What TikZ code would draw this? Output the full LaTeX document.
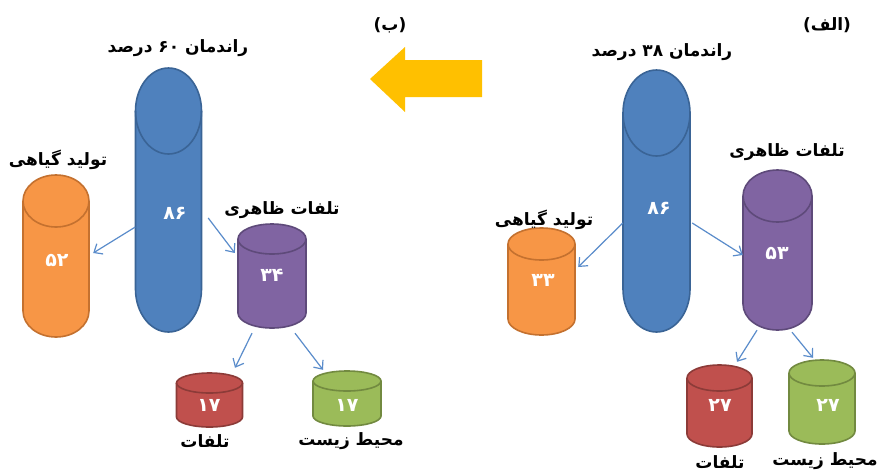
\documentclass[tikz,border=0pt]{standalone}
\usepackage{fontspec}
\usetikzlibrary{arrows.meta,calc}
\newfontfamily\fa[Script=Arabic]{DejaVu Sans}
\newfontfamily\dv{DejaVu Sans}
\TeXXeTstate=1

\definecolor{canBlueF}{HTML}{4F81BD}   \definecolor{canBlueD}{HTML}{3A6496}
\definecolor{canOrangeF}{HTML}{F79646} \definecolor{canOrangeD}{HTML}{C4712F}
\definecolor{canPurpleF}{HTML}{8064A2} \definecolor{canPurpleD}{HTML}{5E4A7A}
\definecolor{canRedF}{HTML}{C0504D}    \definecolor{canRedD}{HTML}{8C3B38}
\definecolor{canGreenF}{HTML}{9BBB59}  \definecolor{canGreenD}{HTML}{728A40}
\definecolor{flowblue}{HTML}{5A8CCB}
\definecolor{bigarrow}{HTML}{FFC000}

\tikzset{
  lbl/.style={font=\fa\bfseries\fontsize{17}{19}\selectfont, inner sep=0pt},
  num/.style={font=\fa\bfseries\fontsize{19}{21}\selectfont, text=white, inner sep=0pt},
  flow/.style={draw=flowblue, line width=1.2pt, -{Straight Barb[length=7pt,width=12pt,line width=1.2pt]}},
  canline/.style={line width=1.6pt},
}

% \can{name}{centre x}{top y}{bottom y}{x radius}{y radius}{colour prefix}
\newcommand{\can}[7]{%
  \fill[#7F] (#2-#5,#3+#6) -- (#2-#5,#4-#6)
      arc[start angle=180,end angle=0,x radius=#5,y radius=#6]
      -- (#2+#5,#3+#6)
      arc[start angle=0,end angle=-180,x radius=#5,y radius=#6] -- cycle;
  \draw[#7D,canline] (#2-#5,#3+#6) -- (#2-#5,#4-#6)
      arc[start angle=180,end angle=0,x radius=#5,y radius=#6]
      -- (#2+#5,#3+#6);
  \draw[#7D,canline] (#2,#3+#6) ellipse[x radius=#5,y radius=#6];
  \node[inner sep=0pt, minimum width={2*#5}, minimum height={#4-#3}] (#1) at (#2,{(#3+#4)/2}) {};
}

\begin{document}
\begin{tikzpicture}[x=1pt,y=-1pt]
\useasboundingbox[fill=white] (0,0) rectangle (880,472);

% ---------- panel (b) ----------
\node[lbl] (tagB) at (390,25) {{\dv\bfseries(}\beginR ب\endR{\dv\bfseries)}};
\node[lbl] (headB) at (178,48) {\beginR راندمان \beginL۶۰\endL{} درصد\endR};

\can{blueL}{168.5}{68}{332}{33}{43}{canBlue}
\can{orangeL}{56}{175}{337}{33}{26}{canOrange}
\can{purpleL}{272}{224}{328}{34}{15}{canPurple}
\can{redL}{209.5}{373}{427}{33}{10}{canRed}
\can{greenL}{347}{371}{426}{34}{10}{canGreen}

\node[num] (vBlueL) at (175,213) {۸۶};
\node[num] (vOrangeL) at (57,260) {۵۲};
\node[num] (vPurpleL) at (272,275) {۳۴};
\node[num] (vRedL) at (209,405) {۱۷};
\node[num] (vGreenL) at (347,405) {۱۷};

\node[lbl] (tOrangeL) at (58,160) {\beginR تولید گیاهی\endR};
\node[lbl] (tPurpleL) at (282,210) {\beginR تلفات ظاهری\endR};
\node[lbl] (tRedL) at (205,441) {\beginR تلفات\endR};
\node[lbl] (tGreenL) at (351,441) {\beginR محیط زیست\endR};

\draw[flow] ([yshift=-27pt]blueL.west) -- ([xshift=4pt,yshift=3pt]orangeL.east);
\draw[flow] ([xshift=6.5pt,yshift=-18pt]blueL.east) -- ([xshift=-3pt,yshift=23pt]purpleL.west);
\draw[flow] ([xshift=-20pt,yshift=-5pt]purpleL.south) -- ([xshift=25.5pt,yshift=5pt]redL.north);
\draw[flow] ([xshift=23pt,yshift=-5pt]purpleL.south) -- ([xshift=-24pt,yshift=1pt]greenL.north);

% ---------- arrow from (a) to (b) ----------
\fill[bigarrow] (370,79) -- (405,47) -- (405,60) -- (482,60) -- (482,97)
  -- (405,97) -- (405,112) -- cycle;

% ---------- panel (a) ----------
\node[lbl] (tagA) at (827,25) {{\dv\bfseries(}\beginR الف\endR{\dv\bfseries)}};
\node[lbl] (headA) at (662,52) {\beginR راندمان \beginL۳۸\endL{} درصد\endR};

\can{blueR}{656.5}{70}{332}{33.5}{43}{canBlue}
\can{orangeR}{541.5}{228}{335}{33.5}{16}{canOrange}
\can{purpleR}{777.5}{170}{330}{34.5}{26}{canPurple}
\can{redR}{719.5}{365}{447}{32.5}{13}{canRed}
\can{greenR}{822}{360}{444}{33}{13}{canGreen}

\node[num] (vBlueR) at (659,208) {۸۶};
\node[num] (vOrangeR) at (543,280) {۳۳};
\node[num] (vPurpleR) at (777,253) {۵۳};
\node[num] (vRedR) at (720,405) {۲۷};
\node[num] (vGreenR) at (828,405) {۲۷};

\node[lbl] (tOrangeR) at (544,220) {\beginR تولید گیاهی\endR};
\node[lbl] (tPurpleR) at (787,152) {\beginR تلفات ظاهری\endR};
\node[lbl] (tRedR) at (720,462) {\beginR تلفات\endR};
\node[lbl] (tGreenR) at (825,461) {\beginR محیط زیست\endR};

\draw[flow] ([yshift=-22pt]blueR.west) -- ([xshift=3pt,yshift=14.5pt]orangeR.east);
\draw[flow] ([xshift=2pt,yshift=-22pt]blueR.east) -- ([yshift=-5pt]purpleR.west);
\draw[flow] ([xshift=-20.5pt]purpleR.south) -- ([xshift=17.5pt,yshift=3pt]redR.north);
\draw[flow] ([xshift=14.5pt,yshift=-2pt]purpleR.south) -- ([xshift=-9pt,yshift=2pt]greenR.north);
\end{tikzpicture}
\end{document}
